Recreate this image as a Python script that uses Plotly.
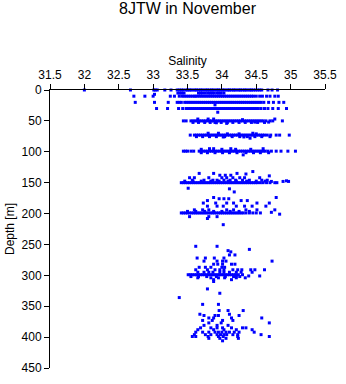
import plotly.graph_objects as go

# ---- data: salinity (x) and depth in m (y) ----
row0_sal = [32.00, 32.67, 33.01, 33.03, 33.06, 33.17, 33.26, 33.35, 33.38, 33.41, 33.44, 33.48, 33.50,
            33.53, 33.55, 33.58, 33.61, 33.63, 33.66, 33.69, 33.71, 33.74, 33.77, 33.79, 33.82, 33.85,
            33.87, 33.90, 33.93, 33.95, 33.98, 34.01, 34.03, 34.06, 34.09, 34.11, 34.14, 34.17, 34.19,
            34.22, 34.25, 34.27, 34.30, 34.33, 34.35, 34.38, 34.41, 34.43, 34.46, 34.49, 34.52, 34.55,
            34.58, 34.67, 34.73, 34.81]
row0_depth = 0

row5_sal = [33.36, 33.39, 33.42, 33.45, 33.66, 33.69, 33.72, 33.76, 33.80, 33.83, 33.86, 33.89, 33.93,
            33.96, 33.99, 34.03]
row5_depth = 5

row10_sal = [32.72, 32.88, 33.00, 33.25, 33.31, 33.38, 33.42, 33.45, 33.48, 33.51, 33.54, 33.57, 33.60,
             33.62, 33.65, 33.68, 33.71, 33.74, 33.77, 33.80, 33.83, 33.86, 33.89, 33.92, 33.95, 33.98,
             34.01, 34.04, 34.07, 34.10, 34.13, 34.16, 34.19, 34.22, 34.25, 34.28, 34.31, 34.34, 34.37,
             34.40, 34.43, 34.46, 34.50, 34.55, 34.59, 34.65, 34.70, 34.77, 34.82]
row10_depth = 10

row20_sal = [32.74, 33.02, 33.22, 33.35, 33.38, 33.41, 33.46, 33.49, 33.52, 33.55, 33.58, 33.61, 33.64,
             33.67, 33.70, 33.73, 33.76, 33.79, 33.82, 33.85, 33.88, 33.91, 33.94, 33.97, 34.00, 34.03,
             34.06, 34.09, 34.12, 34.15, 34.18, 34.21, 34.24, 34.27, 34.30, 34.33, 34.36, 34.39, 34.42,
             34.45, 34.48, 34.51, 34.54, 34.57, 34.61, 34.68, 34.75, 34.83, 34.90]
row20_depth = 20

row30_sal = [33.05, 33.21, 33.37, 33.43, 33.48, 33.51, 33.54, 33.57, 33.60, 33.63, 33.66, 33.69, 33.72,
             33.75, 33.78, 33.81, 33.84, 33.87, 33.90, 33.93, 33.96, 33.99, 34.02, 34.05, 34.08, 34.11,
             34.14, 34.17, 34.20, 34.23, 34.26, 34.29, 34.32, 34.35, 34.38, 34.41, 34.44, 34.47, 34.50,
             34.53, 34.57, 34.62, 34.67, 34.74, 34.82, 34.94]
row30_depth = 30

row50_sal = [33.44, 33.48, 33.55, 33.58, 33.61, 33.64, 33.67, 33.70, 33.73, 33.76, 33.79, 33.82, 33.85,
             33.88, 33.91, 33.94, 33.97, 34.00, 34.03, 34.06, 34.09, 34.12, 34.15, 34.18, 34.21, 34.24,
             34.27, 34.30, 34.33, 34.36, 34.39, 34.42, 34.45, 34.48, 34.51, 34.54, 34.57, 34.60, 34.64,
             34.70, 34.74, 34.88]
row50_depth = 50
row50b_sal = [33.58, 33.66, 33.75, 33.83, 33.90, 33.99, 34.08, 34.16, 34.25, 34.34, 34.43, 34.52, 34.62]
row50b_depth = 52.5

row75_sal = [33.54, 33.60, 33.63, 33.66, 33.69, 33.72, 33.75, 33.78, 33.81, 33.84, 33.87, 33.90, 33.93,
             33.96, 33.99, 34.02, 34.05, 34.08, 34.11, 34.14, 34.17, 34.20, 34.23, 34.26, 34.29, 34.32,
             34.35, 34.38, 34.41, 34.44, 34.47, 34.50, 34.53, 34.56, 34.59, 34.62, 34.66, 34.71, 34.79,
             34.84, 34.98]
row75_depth = 73
row75b_sal = [33.63, 33.72, 33.82, 33.92, 34.04, 34.15, 34.26, 34.37, 34.48, 34.58, 34.70]
row75b_depth = 75.5

row100_sal = [33.44, 33.47, 33.50, 33.55, 33.59, 33.67, 33.70, 33.73, 33.76, 33.79, 33.82, 33.85, 33.88,
              33.91, 33.94, 33.97, 34.00, 34.03, 34.06, 34.09, 34.12, 34.15, 34.18, 34.21, 34.24, 34.27,
              34.30, 34.33, 34.36, 34.39, 34.42, 34.45, 34.48, 34.51, 34.54, 34.57, 34.60, 34.63, 34.67,
              34.72, 34.79, 34.86, 34.96, 35.07]
row100_depth = 99
row100b_sal = [33.70, 33.79, 33.90, 34.01, 34.11, 34.22, 34.35, 34.46, 34.56, 34.68]
row100b_depth = 101.5

row150_sal = [33.41, 33.44, 33.47, 33.50, 33.53, 33.56, 33.59, 33.62, 33.65, 33.68, 33.71, 33.74, 33.77,
              33.80, 33.83, 33.86, 33.89, 33.92, 33.95, 33.98, 34.01, 34.04, 34.07, 34.10, 34.13, 34.16,
              34.19, 34.22, 34.25, 34.28, 34.31, 34.34, 34.37, 34.40, 34.43, 34.46, 34.49, 34.52, 34.56,
              34.60, 34.65, 34.70, 34.77]
row150_depth = 150
row150b_sal = [33.46, 33.58, 33.70, 33.84, 33.96, 34.09, 34.21, 34.36, 34.50, 34.63]
row150b_depth = 147.5

row200_sal = [33.41, 33.44, 33.47, 33.50, 33.53, 33.56, 33.59, 33.62, 33.65, 33.68, 33.71, 33.74, 33.77,
              33.80, 33.83, 33.86, 33.89, 33.92, 33.95, 33.98, 34.01, 34.04, 34.07, 34.10, 34.13, 34.16,
              34.19, 34.22, 34.25, 34.28, 34.31, 34.35, 34.40, 34.45, 34.50, 34.56]
row200_depth = 199
row200b_sal = [33.50, 33.62, 33.75, 33.88, 34.00, 34.12, 34.25, 34.40]
row200b_depth = 196.5

row300_sal = [33.51, 33.54, 33.57, 33.60, 33.63, 33.66, 33.69, 33.72, 33.75, 33.78, 33.81, 33.84, 33.87,
              33.90, 33.93, 33.96, 33.99, 34.02, 34.05, 34.08, 34.11, 34.14, 34.17, 34.20, 34.24, 34.30]
row300_depth = 299
row300b_sal = [33.55, 33.66, 33.78, 33.92, 34.05, 34.17, 34.26]
row300b_depth = 302

# scattered individual samples (salinity, depth)
scatter_sal = [33.02, 33.90, 33.94,
               33.65, 33.80, 33.88, 33.92, 34.07, 34.30, 34.48, 34.68, 34.77,
               33.80, 33.95, 34.08, 34.25, 34.45, 34.50, 34.41, 34.02, 34.32,
               33.70, 33.82, 33.88, 34.00, 34.13, 34.20, 34.42, 34.60, 34.31,
               33.67, 33.88, 33.97, 34.05, 34.13, 34.22, 34.35, 34.45, 34.69, 33.53, 33.60, 33.81,
               34.00, 34.07, 34.16, 34.26, 34.33, 34.55, 33.57, 33.74, 33.87, 33.93, 34.03, 34.12,
               34.20, 34.30, 34.40, 34.58, 34.66, 34.72, 34.89, 34.94, 34.97, 34.80, 33.51, 34.11, 34.18,
               33.88, 34.79, 33.96, 34.03, 34.10, 33.79, 34.28, 34.37, 33.73, 33.91, 34.07, 34.17,
               34.51, 34.69, 33.79, 33.93, 34.02, 34.21, 34.33, 34.44, 34.64, 33.60, 33.72, 33.81,
               34.07, 34.17, 34.35, 34.51, 34.77, 34.72, 34.84, 33.53, 33.81, 33.93, 33.79, 34.02,
               33.62, 33.93, 34.09, 34.13, 34.40, 34.11, 34.19, 33.64, 33.76, 33.89, 34.03, 33.74,
               33.93, 34.01, 34.06, 34.73, 33.88, 33.94, 34.01, 34.14, 34.19, 33.67, 33.76, 33.84,
               34.00, 34.04, 33.62, 33.79, 33.90, 33.97, 34.03, 34.16, 34.23, 34.29, 34.42, 34.48,
               34.62, 33.65, 33.74, 33.81, 33.87, 33.97, 34.03, 34.11, 34.21, 34.28, 34.44, 34.21,
               34.39, 34.55, 33.65, 33.84, 33.95, 34.04, 34.21, 34.34, 33.88, 34.14, 33.88, 33.79,
               33.97, 33.38,
               33.72, 33.95, 33.96, 34.09, 34.31, 33.68, 34.11, 33.74, 33.90, 33.95, 34.25, 33.81,
               33.88, 34.14, 34.58, 33.72, 33.86, 34.01, 34.16, 33.81, 33.99, 34.69, 33.74, 33.93,
               34.09, 33.69, 33.84, 33.93, 34.01, 34.14, 34.30, 34.35, 33.65, 33.88, 34.03, 34.21,
               34.44, 33.62, 33.72, 33.81, 33.90, 33.95, 34.00, 34.06, 34.11, 34.18, 34.25, 34.47,
               33.60, 33.76, 33.84, 33.93, 33.98, 34.03, 34.07, 34.16, 34.23, 34.57, 33.57, 33.62,
               33.80, 33.95, 34.02, 34.23, 34.69, 33.81, 33.97, 34.06, 34.24, 34.01]
scatter_depth = [7, 24, 36,
                 47, 47, 47, 53, 54, 48, 52, 52, 47,
                 70, 70, 71, 71, 70, 71, 78, 76, 76,
                 96, 95, 95, 96, 95, 96, 96, 95, 105,
                 135, 135, 138, 138, 138, 135, 136, 132, 139, 142, 142, 142,
                 142, 142, 142, 142, 142, 142, 146, 146, 146, 146, 146, 146,
                 146, 146, 146, 146, 146, 148, 148, 147, 148, 150, 159, 160, 165,
                 174, 174, 176, 176, 176, 179, 179, 179, 183, 183, 183, 183,
                 183, 183, 188, 188, 188, 188, 188, 188, 188, 194, 194, 194,
                 194, 194, 194, 194, 194, 198, 201, 205, 205, 205, 208, 218,
                 253, 253, 260, 262, 258, 267, 267, 272, 272, 272, 272, 277,
                 277, 277, 277, 277, 282, 282, 282, 282, 282, 287, 287, 287,
                 287, 287, 291, 291, 291, 291, 291, 291, 291, 291, 291, 291,
                 291, 295, 295, 295, 295, 295, 295, 295, 295, 295, 295, 301,
                 301, 301, 304, 304, 304, 304, 304, 304, 307, 307, 310, 322,
                 329, 336,
                 347, 347, 357, 357, 357, 363, 363, 365, 365, 365, 365, 369,
                 369, 369, 369, 373, 373, 373, 373, 377, 377, 377, 381, 381,
                 381, 385, 385, 385, 385, 385, 385, 385, 388, 388, 388, 388,
                 388, 392, 392, 392, 392, 392, 392, 392, 392, 392, 392, 392,
                 396, 396, 396, 396, 396, 396, 396, 396, 396, 396, 399, 399,
                 399, 399, 399, 399, 399, 402, 402, 402, 402, 406]

x_ticks = [31.5, 32, 32.5, 33, 33.5, 34, 34.5, 35, 35.5]
y_ticks = [0, 50, 100, 150, 200, 250, 300, 350, 400, 450]

# ---- assemble ----
rows = [(row0_sal, row0_depth), (row5_sal, row5_depth), (row10_sal, row10_depth),
        (row20_sal, row20_depth), (row30_sal, row30_depth), (row50_sal, row50_depth),
        (row50b_sal, row50b_depth), (row75_sal, row75_depth), (row75b_sal, row75b_depth),
        (row100_sal, row100_depth), (row100b_sal, row100b_depth),
        (row150_sal, row150_depth), (row150b_sal, row150b_depth),
        (row200_sal, row200_depth), (row200b_sal, row200b_depth),
        (row300_sal, row300_depth), (row300b_sal, row300b_depth)]
sal, dep = [], []
for s_list, d in rows:
    sal.extend(s_list)
    dep.extend([d] * len(s_list))
sal.extend(scatter_sal)
dep.extend(scatter_depth)

font_family = "Liberation Sans, Arial, sans-serif"

fig = go.Figure(go.Scatter(
    x=sal, y=dep, mode="markers", cliponaxis=False,
    marker=dict(symbol="square", size=3, color="#0000FF", line=dict(width=0)),
    hoverinfo="x+y",
))

fig.update_layout(
    width=346, height=384,
    margin=dict(l=47, r=14, t=90, b=9),
    paper_bgcolor="white", plot_bgcolor="white",
    showlegend=False,
    font=dict(family=font_family, color="black", size=12),
    title=dict(text="8JTW in November", x=0.5, xref="paper", xanchor="center",
               y=1 - 8.5 / 384, yref="container", yanchor="middle",
               font=dict(size=16, family=font_family, color="black")),
    xaxis=dict(side="top", range=[31.5, 35.5], tickvals=x_ticks,
               ticktext=[str(t) for t in x_ticks],
               showline=True, linecolor="black", linewidth=1,
               ticks="outside", ticklen=5, tickcolor="black", tickwidth=1,
               showgrid=False, zeroline=False,
               tickfont=dict(size=12),
               title=dict(text="Salinity", font=dict(size=12), standoff=0)),
    yaxis=dict(range=[450, 0], tickvals=y_ticks,
               showline=True, linecolor="black", linewidth=1,
               ticks="outside", ticklen=5, tickcolor="black", tickwidth=1,
               showgrid=False, zeroline=False,
               tickfont=dict(size=12),
               title=dict(text="Depth [m]", font=dict(size=12), standoff=4)),
)

fig.write_html("out.html")
